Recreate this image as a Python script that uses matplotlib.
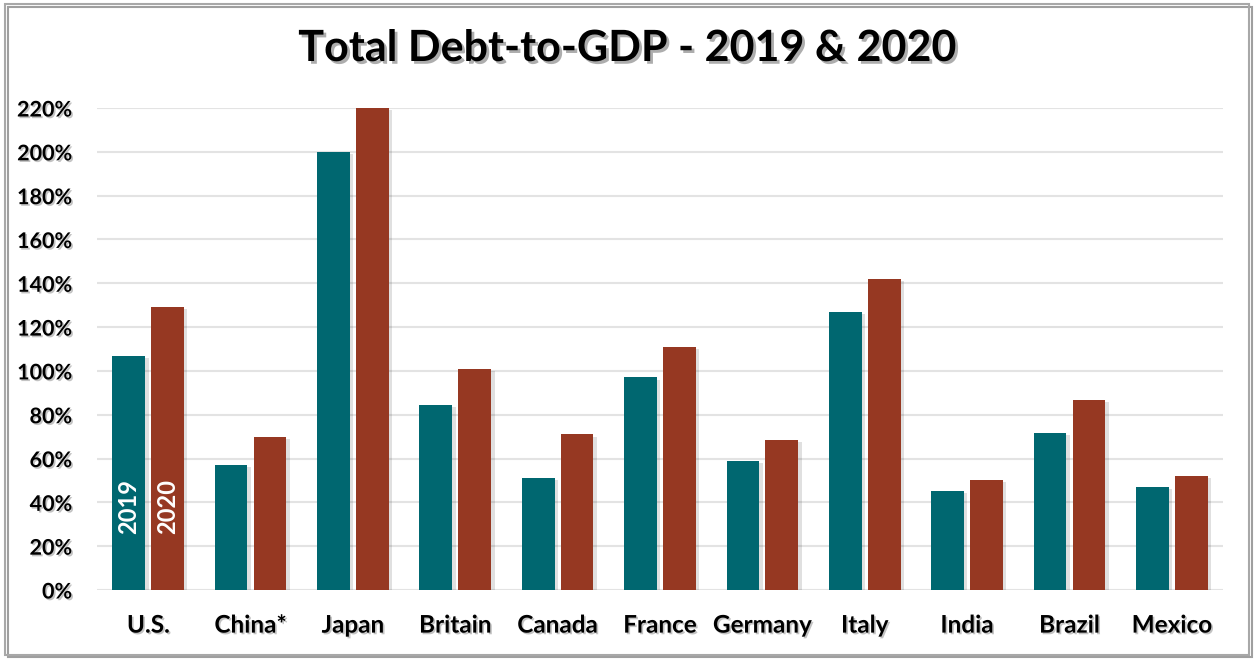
import numpy as np
import matplotlib
matplotlib.use("Agg")
import matplotlib.pyplot as plt
import matplotlib.patheffects as pe
from matplotlib.patches import Rectangle

# Total debt-to-GDP, percent
countries = ['U.S.', 'China*', 'Japan', 'Britain', 'Canada', 'France',
             'Germany', 'Italy', 'India', 'Brazil', 'Mexico']
debt_2019 = [107, 57, 200, 84.5, 51, 97, 59, 127, 45.3, 71.5, 47]
debt_2020 = [129, 70, 220, 101, 71, 111, 68.5, 142, 50.2, 86.6, 52]
yticks = list(range(0, 221, 20))

c2019 = '#006770'
c2020 = '#963822'

plt.rcParams['font.family'] = ['Lato', 'DejaVu Sans']

fig = plt.figure(figsize=(12.55, 6.6), dpi=100)
ax = fig.add_axes([97 / 1255, 1 - 590 / 660, (1223 - 97) / 1255, (590 - 108) / 660])

# outer frame with a little drop shadow
frame = Rectangle((0.004, 0.008), 0.991, 0.986, transform=fig.transFigure,
                  fill=False, edgecolor='#a8a8a8', linewidth=1.5, zorder=10,
                  path_effects=[pe.SimpleLineShadow(offset=(2, -2), shadow_color='#606060', alpha=0.6),
                                pe.Normal()])
fig.patches.append(frame)

x = np.arange(len(countries))
w = 0.32
bar_shadow = [pe.SimplePatchShadow(offset=(2.5, -1.5), shadow_rgbFace='#000000', alpha=0.12), pe.Normal()]
b1 = ax.bar(x - 0.19, debt_2019, w, color=c2019, zorder=3)
b2 = ax.bar(x + 0.19, debt_2020, w, color=c2020, zorder=3)
for b in list(b1) + list(b2):
    b.set_path_effects(bar_shadow)

# year labels inside the first pair of bars
ax.text(x[0] - 0.19, 38, '2019', rotation=90, color='white', fontsize=17,
        fontweight='bold', ha='center', va='center', zorder=5)
ax.text(x[0] + 0.19, 38, '2020', rotation=90, color='white', fontsize=17,
        fontweight='bold', ha='center', va='center', zorder=5)

ax.set_ylim(0, 220)
ax.set_xlim(-0.5, 10.5)
ax.set_yticks(yticks)
ax.set_yticklabels([f'{v}%' for v in yticks])
ax.set_xticks(x)
ax.set_xticklabels(countries)
ax.yaxis.grid(True, color='#e3e3e3', linewidth=1.5, zorder=0)
ax.set_axisbelow(True)
for s in ax.spines.values():
    s.set_visible(False)
ax.tick_params(axis='both', length=0)
ax.tick_params(axis='x', pad=17, labelsize=17.5)
ax.tick_params(axis='y', pad=18, labelsize=15.5)

txt_shadow = [pe.withSimplePatchShadow(offset=(1.2, -1.2), shadow_rgbFace='#888888', alpha=0.5)]
for lab in ax.get_xticklabels() + ax.get_yticklabels():
    lab.set_fontweight('bold')
    lab.set_path_effects(txt_shadow)

fig.text(0.5, 1 - 48 / 660, 'Total Debt-to-GDP - 2019 & 2020', ha='center', va='center',
         fontsize=31, fontweight='bold',
         path_effects=[pe.withSimplePatchShadow(offset=(2, -2), shadow_rgbFace='#777777', alpha=0.6)])

fig.savefig('out.png', dpi=100)
